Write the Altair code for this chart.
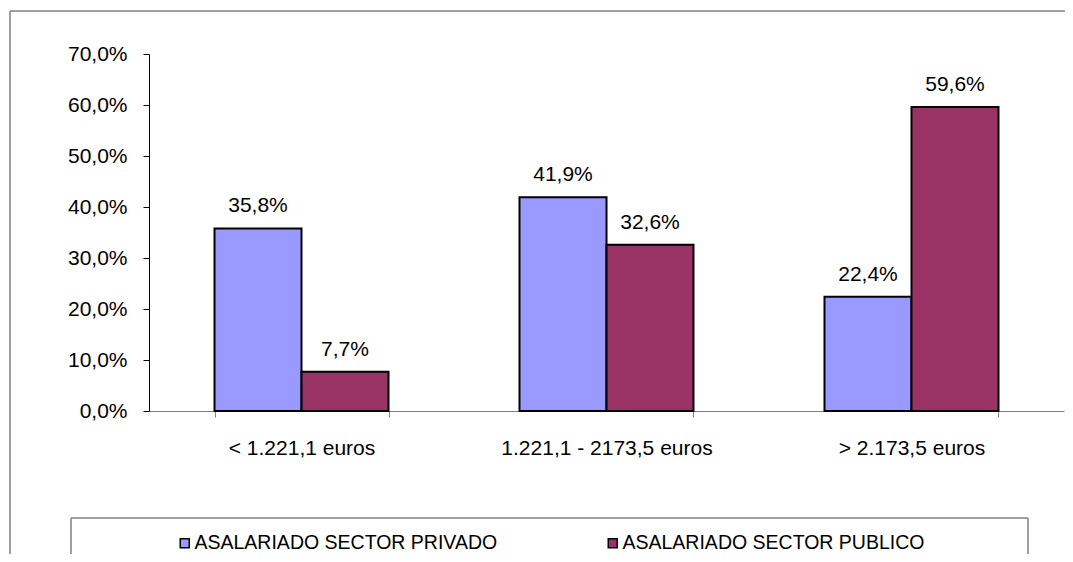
import altair as alt
import pandas as pd

categories = ["< 1.221,1 euros", "1.221,1 - 2173,5 euros", "> 2.173,5 euros"]
series = ["ASALARIADO SECTOR PRIVADO", "ASALARIADO SECTOR PUBLICO"]
privado = [35.8, 41.9, 22.4]
publico = [7.7, 32.6, 59.6]
colors = ["#9999FF", "#993366"]
y_ticks = [0, 10, 20, 30, 40, 50, 60, 70]

rows = []
for i, c in enumerate(categories):
    rows.append({"cat": c, "serie": series[0], "v": privado[i]})
    rows.append({"cat": c, "serie": series[1], "v": publico[i]})
df = pd.DataFrame(rows)

FONT = "Liberation Sans"

x_enc = alt.X("cat:N", sort=categories, title=None,
              scale=alt.Scale(paddingInner=0.4295, paddingOuter=0.2148),
              axis=alt.Axis(labelAngle=0, labelFontSize=21, labelColor="black",
                            labelLimit=0,
                            domainColor="#808080", tickColor="#808080", tickSize=6,
                            labelPadding=20, tickBand="extent", tickExtra=True))
y_enc = alt.Y("v:Q", title=None,
              scale=alt.Scale(domain=[0, 70], nice=False),
              axis=alt.Axis(values=y_ticks, grid=False, domainColor="black",
                            tickColor="black", tickSize=6, labelFontSize=21,
                            labelColor="black", labelPadding=16,
                            labelExpr="replace(format(datum.value, '.1f'), '.', ',') + '%'"))
off_enc = alt.XOffset("serie:N", sort=series,
                      scale=alt.Scale(paddingInner=0, paddingOuter=0))
color_enc = alt.Color("serie:N", sort=series, title=None,
                      scale=alt.Scale(domain=series, range=colors),
                      legend=alt.Legend(orient="none", legendX=26, legendY=479,
                                        direction="horizontal", symbolType="square",
                                        symbolSize=81, symbolStrokeColor="black",
                                        symbolStrokeWidth=1.5, labelFontSize=19.5,
                                        labelColor="black", labelOffset=0,
                                        labelLimit=0,
                                        columnPadding=105, padding=0))

one = alt.Data(values=[{}])
line_style = dict(color="#808080", strokeWidth=1.5)
frame_top = alt.Chart(one).mark_rule(**line_style).encode(
    x=alt.value(-139), x2=alt.value(1000), y=alt.value(-43))
frame_left = alt.Chart(one).mark_rule(**line_style).encode(
    x=alt.value(-139), y=alt.value(-43), y2=alt.value(600))
leg_top = alt.Chart(one).mark_rule(**line_style).encode(
    x=alt.value(-78), x2=alt.value(879), y=alt.value(464))
leg_left = alt.Chart(one).mark_rule(**line_style).encode(
    x=alt.value(-78), y=alt.value(464), y2=alt.value(600))
leg_right = alt.Chart(one).mark_rule(**line_style).encode(
    x=alt.value(879), y=alt.value(464), y2=alt.value(600))

base = alt.Chart(df)
bars = base.mark_bar(stroke="black", strokeWidth=2).encode(
    x=x_enc, xOffset=off_enc, y=y_enc, color=color_enc
)
labels = base.transform_calculate(
    lab="replace(format(datum.v, '.1f'), '.', ',') + '%'"
).mark_text(fontSize=21, color="black", baseline="middle", dy=-22).encode(
    x=alt.X("cat:N", sort=categories), xOffset=off_enc, y="v:Q", text="lab:N"
)

chart = alt.layer(frame_top, frame_left, leg_top, leg_left, leg_right, bars, labels).properties(
    width=915, height=357,
    autosize=alt.AutoSizeParams(type="none"),
    padding={"left": 141, "top": 46, "right": 1, "bottom": 143},
).configure(font=FONT).configure_view(stroke=None)

chart.save("out.html", embed_options={"renderer": "svg", "actions": False})
